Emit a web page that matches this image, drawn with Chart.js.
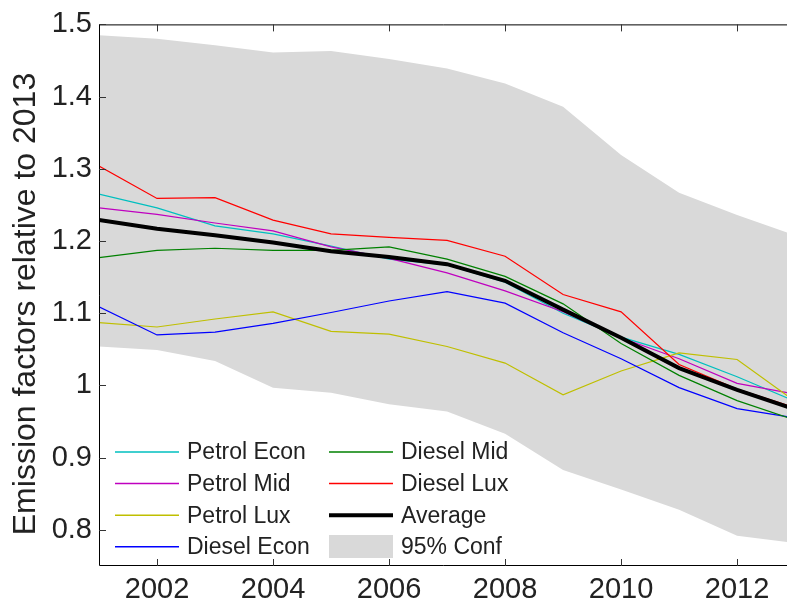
<!DOCTYPE html>
<html>
<head>
<meta charset="utf-8">
<script src="https://cdn.jsdelivr.net/npm/chart.js@4/dist/chart.umd.min.js"></script>
<style>
  html, body { margin: 0; padding: 0; background: #fff; overflow: hidden; }
  #wrap { width: 787px; height: 606px; position: relative; }
</style>
</head>
<body>
<div id="wrap"><canvas id="c" width="787" height="606"></canvas></div>
<script>
// ---- data ----
const years = [2001, 2002, 2003, 2004, 2005, 2006, 2007, 2008, 2009, 2010, 2011, 2012, 2013];
const xTickYears = [2002, 2004, 2006, 2008, 2010, 2012];
const yTickValues = [0.8, 0.9, 1.0, 1.1, 1.2, 1.3, 1.4, 1.5];

const petrolEcon = [1.265, 1.246, 1.221, 1.210, 1.193, 1.175, 1.167, 1.143, 1.100, 1.067, 1.043, 1.012, 0.978];
const petrolMid  = [1.246, 1.237, 1.225, 1.214, 1.192, 1.176, 1.156, 1.131, 1.102, 1.066, 1.037, 1.003, 0.988];
const petrolLux  = [1.087, 1.081, 1.092, 1.102, 1.075, 1.071, 1.054, 1.031, 0.987, 1.020, 1.045, 1.036, 0.978];
const dieselEcon = [1.109, 1.070, 1.074, 1.086, 1.101, 1.117, 1.130, 1.114, 1.073, 1.037, 0.997, 0.968, 0.955];
const dieselMid  = [1.177, 1.187, 1.190, 1.187, 1.187, 1.192, 1.175, 1.151, 1.113, 1.058, 1.014, 0.979, 0.952];
const dieselLux  = [1.304, 1.259, 1.260, 1.229, 1.210, 1.205, 1.201, 1.179, 1.126, 1.102, 1.029, 0.995, 0.969];
const average    = [1.229, 1.217, 1.208, 1.198, 1.186, 1.178, 1.168, 1.145, 1.105, 1.066, 1.024, 0.994, 0.967];
const confUpper  = [1.485, 1.480, 1.471, 1.461, 1.463, 1.452, 1.439, 1.418, 1.386, 1.319, 1.267, 1.236, 1.208];
const confLower  = [1.054, 1.049, 1.034, 0.997, 0.990, 0.974, 0.964, 0.933, 0.883, 0.856, 0.828, 0.792, 0.782];

const yAxisTitle = 'Emission factors relative to 2013';
const legendOrder = ['Petrol Econ', 'Petrol Mid', 'Petrol Lux', 'Diesel Econ', 'Diesel Mid', 'Diesel Lux', 'Average', '95% Conf'];

// ---- helpers ----
const pts = arr => years.map((y, i) => ({ x: y, y: arr[i] }));
const FONT = "'Liberation Sans', Arial, Helvetica, sans-serif";
const TXT = '#222222';

function line(label, data, color, width, order) {
  return { label, data: pts(data), borderColor: color, backgroundColor: color,
           borderWidth: width, pointRadius: 0, tension: 0, fill: false, order };
}

const datasets = [
  { label: '95% Conf', data: pts(confUpper), borderWidth: 0, borderColor: 'rgba(0,0,0,0)',
    backgroundColor: '#d9d9d9', pointRadius: 0, tension: 0, fill: '+1', order: 20 },
  { label: '95% Conf lower', data: pts(confLower), borderWidth: 0, borderColor: 'rgba(0,0,0,0)',
    backgroundColor: '#d9d9d9', pointRadius: 0, tension: 0, fill: false, order: 21 },
  line('Petrol Econ', petrolEcon, '#00bfbf', 1.2, 6),
  line('Petrol Mid',  petrolMid,  '#bf00bf', 1.2, 5),
  line('Petrol Lux',  petrolLux,  '#bfbf00', 1.2, 4),
  line('Diesel Econ', dieselEcon, '#0000ff', 1.2, 3),
  line('Diesel Mid',  dieselMid,  '#008000', 1.2, 2),
  line('Diesel Lux',  dieselLux,  '#ff0000', 1.2, 1),
  line('Average',     average,    '#000000', 4, 0)
];

// axes box + inward ticks (MATLAB style)
const boxPlugin = {
  id: 'box',
  afterDatasetsDraw(chart) {
    const { ctx, chartArea: a, scales } = chart;
    ctx.save();
    ctx.strokeStyle = '#000';
    ctx.lineWidth = 1;
    ctx.beginPath();
    ctx.moveTo(a.left + 0.5, a.bottom - 0.5);
    ctx.lineTo(a.left + 0.5, a.top + 0.5);
    ctx.lineTo(chart.width + 5, a.top + 0.5);
    ctx.moveTo(a.left + 0.5, a.bottom - 0.5);
    ctx.lineTo(chart.width + 5, a.bottom - 0.5);
    ctx.stroke();
    ctx.strokeStyle = '#333';
    ctx.beginPath();
    const tl = 7;
    xTickYears.forEach(v => {
      const px = Math.round(scales.x.getPixelForValue(v)) + 0.5;
      ctx.moveTo(px, a.bottom); ctx.lineTo(px, a.bottom - tl);
      ctx.moveTo(px, a.top); ctx.lineTo(px, a.top + tl);
    });
    yTickValues.forEach(v => {
      const py = Math.round(scales.y.getPixelForValue(v)) + 0.5;
      ctx.moveTo(a.left, py); ctx.lineTo(a.left + tl, py);
    });
    ctx.stroke();
    ctx.restore();
  }
};

// y axis title + legend drawn inside the axes, two columns
const textPlugin = {
  id: 'texts',
  afterDraw(chart) {
    const ctx = chart.ctx;
    ctx.save();
    // y-axis title
    ctx.save();
    ctx.translate(26, 304);
    ctx.rotate(-Math.PI / 2);
    ctx.font = "32px " + FONT;
    ctx.fillStyle = TXT;
    ctx.textAlign = 'center';
    ctx.textBaseline = 'middle';
    ctx.fillText(yAxisTitle, 0, 0);
    ctx.restore();

    // legend
    const colLine = [115, 329], lineLen = 64, textGap = 72;
    const rowY0 = 452, rowStep = 31.6;
    ctx.font = "23px " + FONT;
    ctx.textBaseline = 'middle';
    ctx.textAlign = 'left';
    legendOrder.forEach((name, i) => {
      const col = Math.floor(i / 4), row = i % 4;
      const x0 = colLine[col];
      const y = rowY0 + row * rowStep;
      const ds = chart.data.datasets.find(d => d.label === name);
      if (name === '95% Conf') {
        ctx.fillStyle = ds.backgroundColor;
        ctx.fillRect(x0, Math.round(y - 11.5), lineLen, 23);
      } else {
        ctx.strokeStyle = ds.borderColor;
        ctx.lineWidth = ds.borderWidth > 2 ? 4 : 1.5;
        ctx.beginPath();
        ctx.moveTo(x0, y); ctx.lineTo(x0 + lineLen, y);
        ctx.stroke();
      }
      ctx.fillStyle = TXT;
      ctx.fillText(name, x0 + textGap, y + 1);
    });
    ctx.restore();
  }
};

new Chart(document.getElementById('c'), {
  type: 'line',
  data: { datasets },
  plugins: [boxPlugin, textPlugin],
  options: {
    responsive: false,
    animation: false,
    events: [],
    layout: { padding: { top: 19, right: 0, bottom: 0, left: 0 } },
    plugins: { legend: { display: false }, tooltip: { enabled: false } },
    scales: {
      x: {
        type: 'linear',
        min: 2001,
        max: 2012.86,
        afterBuildTicks: s => { s.ticks = xTickYears.map(v => ({ value: v })); },
        afterFit: s => { s.height = 40; },
        grid: { display: false, drawTicks: false },
        border: { display: false },
        ticks: { color: TXT, font: { family: FONT, size: 29 }, padding: 7, maxRotation: 0,
                 callback: v => String(v) }
      },
      y: {
        type: 'linear',
        min: 0.75,
        max: 1.5,
        afterBuildTicks: s => { s.ticks = yTickValues.map(v => ({ value: v })); },
        afterFit: s => { s.width = 99; },
        grid: { display: false, drawTicks: false },
        border: { display: false },
        ticks: { color: TXT, font: { family: FONT, size: 29 }, padding: 7,
                 callback: v => String(Math.round(v * 10) / 10) }
      }
    }
  }
});
</script>
</body>
</html>
